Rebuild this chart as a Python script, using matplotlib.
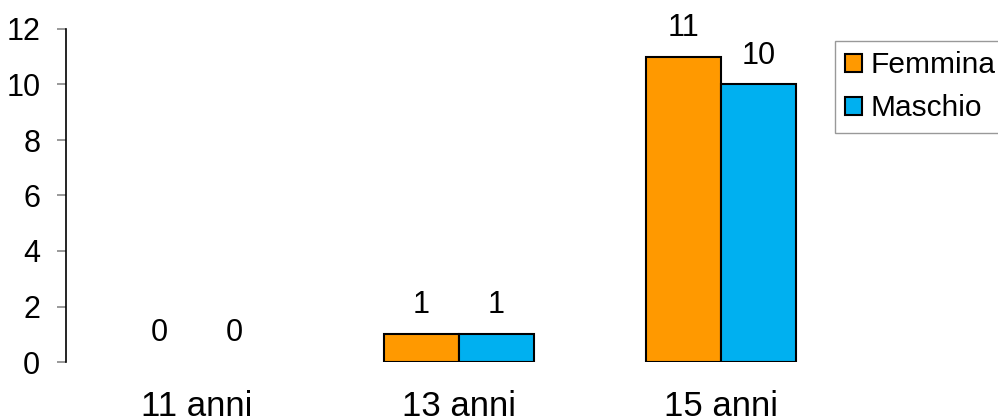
import matplotlib
matplotlib.use("Agg")
import matplotlib.pyplot as plt
from matplotlib.patches import Patch
import numpy as np

categories = ["11 anni", "13 anni", "15 anni"]
femmina = [0, 1, 11]
maschio = [0, 1, 10]
series_names = ["Femmina", "Maschio"]
colors = ["#FF9900", "#00B0F0"]

plt.rcParams['font.family'] = ['Liberation Sans', 'DejaVu Sans']

W, H = 998, 419
fig = plt.figure(figsize=(W/100, H/100), dpi=100)
ax = fig.add_axes([66/W, (H-362)/H, (852-66)/W, (362-29)/H])

x = np.arange(len(categories))
bw = 75/262
b1 = ax.bar(x - bw/2, femmina, bw, color=colors[0], edgecolor='black', linewidth=1.5)
b2 = ax.bar(x + bw/2, maschio, bw, color=colors[1], edgecolor='black', linewidth=1.5)

for bars, vals in ((b1, femmina), (b2, maschio)):
    for r, v in zip(bars, vals):
        if v == 0:
            r.set_linewidth(0)
        ax.annotate(str(v), (r.get_x() + r.get_width()/2, v), xytext=(0, 10),
                    textcoords='offset points', ha='center', va='bottom', fontsize=22)

ax.set_xlim(-0.5, 2.5)
ax.set_ylim(0, 12)
ax.set_yticks(range(0, 13, 2))
ax.set_xticks(x)
ax.set_xticklabels(categories)
ax.tick_params(axis='x', length=0, labelsize=25, pad=20)
ax.tick_params(axis='y', length=6.5, color='#888888', width=1.2, labelsize=22, pad=12)
for s in ('top', 'right', 'bottom'):
    ax.spines[s].set_visible(False)
ax.spines['left'].set_linewidth(1.2)

handles = [Patch(facecolor=c, edgecolor='black', linewidth=1.5) for c in colors]
leg = fig.legend(handles, series_names, loc='upper left', bbox_to_anchor=(835/W, 1 - 41/H),
                 fontsize=21.5, frameon=True, fancybox=False, edgecolor='#808080',
                 handlelength=0.55, handleheight=0.55, handletextpad=0.3, borderpad=0.35,
                 labelspacing=0.5, borderaxespad=0)
leg.get_frame().set_linewidth(1.0)

fig.savefig("out.png", dpi=100)
